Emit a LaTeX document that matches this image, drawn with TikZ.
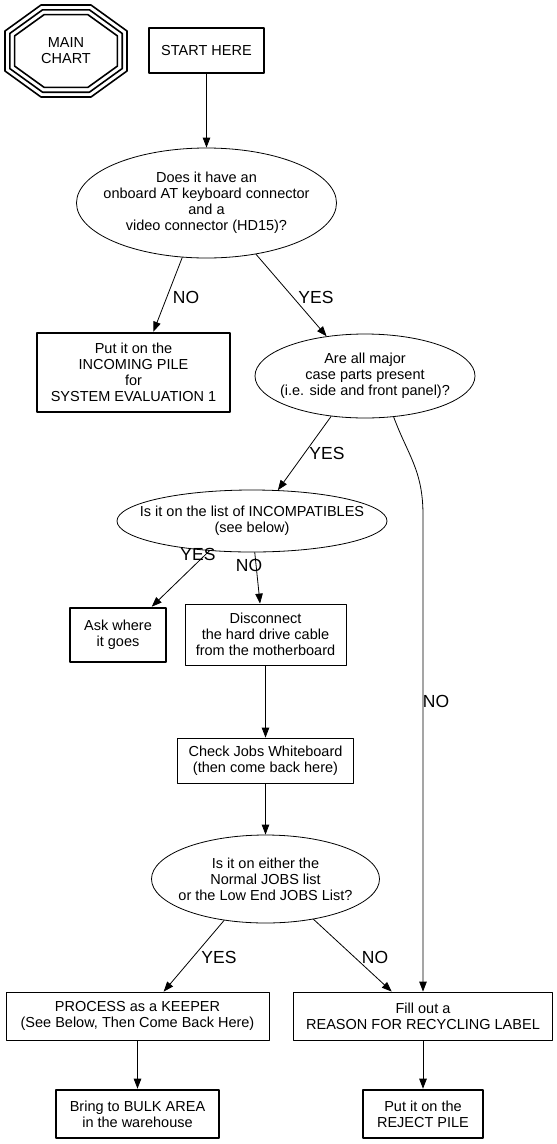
\documentclass[tikz,border=0pt]{standalone}
\usepackage{fontspec}
\setmainfont{Liberation Sans}
\usetikzlibrary{shapes.geometric,arrows.meta,calc}
\tikzset{
    lab/.style={
        font=\fontsize{17.5}{20}\selectfont
    }
}

\begin{document}
\begin{tikzpicture}[x=1pt,y=-1pt, line cap=round, line join=round]

\tikzset{
  conn/.style={draw=black, line width=0.8pt, -{Triangle[length=10pt,width=7.5pt]}},
  box/.style={rectangle, draw=black, line width=0.8pt, align=center, inner sep=0pt, font=\fontsize{14.5}{16}\selectfont},
  endbox/.style={box, line width=2.6pt},
  quest/.style={ellipse, draw=black, line width=0.8pt, inner sep=0pt},
  qtext/.style={align=center, inner sep=0pt, font=\fontsize{14.5}{16}\selectfont},
  octline/.style={draw=black, line width=1.6pt},
}

\useasboundingbox (0,0) rectangle (557,1144);

\coordinate (M) at (66,51);
\coordinate (S) at (206.5,50.5);
\coordinate (Q1) at (206.5,203);
\coordinate (I) at (133.5,372.5);
\coordinate (Q2) at (365,376);
\coordinate (Q3) at (252,521);
\coordinate (K) at (118,635);
\coordinate (D) at (265.5,634.5);
\coordinate (C) at (265.5,760.5);
\coordinate (Q4) at (265.5,879);
\coordinate (P) at (137.5,1016);
\coordinate (F) at (423,1016);
\coordinate (B) at (137.5,1114);
\coordinate (R) at (423,1114);
\coordinate (bend) at (423,515);

% main chart badge (three nested octagons)
\node[qtext] (mc) at (M) {MAIN\\CHART};
\foreach \d in {0,4.8,9.6}
  \draw[octline, shift={(mc.center)}]
    ({-25+0.33*\d},{-46+\d}) -- ({25-0.33*\d},{-46+\d}) -- ({61-\d},{-20+0.51*\d})
    -- ({61-\d},{20-0.51*\d}) -- ({25-0.33*\d},{46-\d}) -- ({-25+0.33*\d},{46-\d})
    -- ({-61+\d},{20-0.51*\d}) -- ({-61+\d},{-20+0.51*\d}) -- cycle;

% boxes
\node[endbox, minimum width=115, minimum height=45] (start) at (S) {START HERE};
\node[endbox, minimum width=193, minimum height=79] (incoming) at (I) {Put it on the\\INCOMING PILE\\for\\SYSTEM EVALUATION 1};
\node[endbox, minimum width=96, minimum height=54] (ask) at (K) {Ask where\\it goes};
\node[box, minimum width=161, minimum height=61] (disc) at (D) {Disconnect\\the hard drive cable\\from the motherboard};
\node[box, minimum width=176, minimum height=45] (check) at (C) {Check Jobs Whiteboard\\(then come back here)};
\node[box, minimum width=263, minimum height=48] (process) at (P) {PROCESS as a KEEPER\\(See Below, Then Come Back Here)};
\node[box, minimum width=259, minimum height=48] (fill) at (F) {Fill out a\\REASON FOR RECYCLING LABEL};
\node[endbox, minimum width=163, minimum height=48] (bring) at (B) {Bring to BULK AREA\\in the warehouse};
\node[endbox, minimum width=120, minimum height=48] (reject) at (R) {Put it on the\\REJECT PILE};

% questions
\node[quest, minimum width=260, minimum height=110] (q1) at (Q1) {};
\node[qtext] (q1t) at (q1) {Does it have an\\onboard AT keyboard connector\\and a\\video connector (HD15)?};
\node[quest, minimum width=220, minimum height=84] (q2) at (Q2) {};
\node[qtext] (q2t) at (q2) {Are all major\\case parts present\\(i.e. side and front panel)?};
\node[quest, minimum width=270, minimum height=62] (q3) at (Q3) {};
\node[qtext] (q3t) at (q3) {Is it on the list of INCOMPATIBLES\\(see below)};
\node[quest, minimum width=228, minimum height=88] (q4) at (Q4) {};
\node[qtext] (q4t) at (q4) {Is it on either the\\Normal JOBS list\\or the Low End JOBS List?};

% edges
\draw[conn] (start.south) -- (q1.north);
\draw[conn] (q1.246) -- (incoming.64);
\draw[conn] (q1.314) -- (q2.134);
\draw[conn] (q2.230) -- (q3.50);
\draw[conn] (q2.305) .. controls +(14,38) and +(0,-45) .. (bend) -- (fill.north);
\draw[conn] (q3.215) -- (ask.40);
\draw[conn] (q3.275) -- (disc.100);
\draw[conn] (disc.south) -- (check.north);
\draw[conn] (check.south) -- (q4.north);
\draw[conn] (q4.225) -- (process.43);
\draw[conn] (q4.320) -- (fill.142);
\draw[conn] (process.south) -- (bring.north);
\draw[conn] (fill.south) -- (reject.north);

% labels
\node[lab] (no1) at (186,297) {NO};
\node[lab] (yes1) at (316,297) {YES};
\node[lab] (yes2) at (327,453) {YES};
\node[lab] (yes3) at (198,554) {YES};
\node[lab] (no3) at (249,565) {NO};
\node[lab] (no2) at (436,701) {NO};
\node[lab] (yes4) at (219,957) {YES};
\node[lab] (no4) at (375,957) {NO};

\end{tikzpicture}
\end{document}
